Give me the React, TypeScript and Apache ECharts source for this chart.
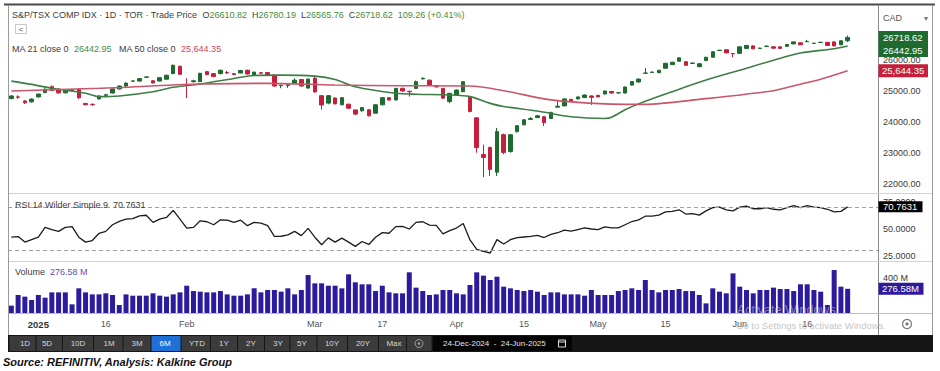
import React, { useEffect, useRef } from 'react';
import * as echarts from 'echarts';

// ---------------- DATA ----------------
const tradingDays: Record<string, number[]> = {
  '2024-12': [24, 27, 30, 31],
  '2025-01': [2, 3, 6, 7, 8, 9, 10, 13, 14, 15, 16, 17, 20, 21, 22, 23, 24, 27, 28, 29, 30, 31],
  '2025-02': [3, 4, 5, 6, 7, 10, 11, 12, 13, 14, 18, 19, 20, 21, 24, 25, 26, 27, 28],
  '2025-03': [3, 4, 5, 6, 7, 10, 11, 12, 13, 14, 17, 18, 19, 20, 21, 24, 25, 26, 27, 28, 31],
  '2025-04': [1, 2, 3, 4, 7, 8, 9, 10, 11, 14, 15, 16, 17, 21, 22, 23, 24, 25, 28, 29, 30],
  '2025-05': [1, 2, 5, 6, 7, 8, 9, 12, 13, 14, 15, 16, 20, 21, 22, 23, 26, 27, 28, 29, 30],
  '2025-06': [2, 3, 4, 5, 6, 9, 10, 11, 12, 13, 16, 17, 18, 19, 20, 23, 24],
};

// [open, close, low, high]
const candles: number[][] = [
  [24750, 24830, 24720, 24860], [24800, 24790, 24740, 24850], [24670, 24610, 24570, 24690], [24640, 24730, 24620, 24750],
  [24800, 24890, 24780, 24910], [24940, 25050, 24920, 25070], [25130, 25010, 24990, 25170], [25050, 24930, 24900, 25080],
  [24930, 25020, 24910, 25040], [25030, 25010, 24980, 25060], [25050, 24770, 24740, 25070], [24590, 24545, 24530, 24600],
  [24560, 24550, 24510, 24590], [24735, 24830, 24720, 24850], [24850, 24870, 24830, 24900], [24925, 25055, 24910, 25070],
  [25055, 25150, 25040, 25170], [25150, 25245, 25130, 25270], [25305, 25315, 25290, 25330], [25310, 25390, 25300, 25400],
  [25430, 25445, 25420, 25460], [25320, 25250, 25240, 25330], [25310, 25420, 25300, 25430], [25370, 25500, 25360, 25510],
  [25550, 25820, 25540, 25840], [25790, 25530, 25520, 25800], [25200, 25180, 24760, 25400], [25290, 25320, 25260, 25350],
  [25290, 25560, 25280, 25580], [25615, 25520, 25500, 25640], [25550, 25455, 25440, 25570], [25550, 25660, 25530, 25680],
  [25590, 25575, 25540, 25640], [25550, 25520, 25500, 25570], [25570, 25650, 25560, 25670], [25660, 25540, 25530, 25680],
  [25500, 25600, 25490, 25610], [25580, 25565, 25540, 25600], [25585, 25500, 25490, 25600], [25500, 25150, 25130, 25510],
  [25160, 25175, 25080, 25190], [25170, 25190, 25090, 25200], [25245, 25340, 25230, 25400], [25360, 25150, 25140, 25370],
  [25085, 25375, 25070, 25390], [25400, 24960, 24940, 25500], [24840, 24540, 24390, 24850], [24600, 24840, 24560, 24860],
  [24765, 24575, 24560, 24780], [24545, 24775, 24530, 24790], [24565, 24435, 24420, 24580], [24380, 24245, 24210, 24390],
  [24350, 24455, 24330, 24470], [24385, 24190, 24170, 24400], [24275, 24545, 24260, 24560], [24545, 24775, 24530, 24790],
  [24775, 24700, 24680, 24790], [24700, 25075, 24690, 25090], [25075, 24990, 24970, 25100], [24980, 24965, 24810, 25000],
  [25075, 25290, 25060, 25330], [25380, 25400, 25370, 25430], [25340, 25180, 25170, 25360], [25140, 25125, 25100, 25160],
  [25075, 24760, 24740, 25090], [24650, 24915, 24600, 24930], [24860, 25020, 24850, 25040], [24970, 25290, 24950, 25300],
  [24810, 24330, 24300, 24830], [24125, 23165, 23000, 24140], [22940, 22845, 22210, 23260], [23165, 22460, 22250, 23200],
  [22370, 23680, 22250, 23800], [23580, 23010, 22950, 23620], [23040, 23580, 23000, 23600], [23680, 23870, 23650, 23890],
  [23900, 24060, 23880, 24080], [24075, 24100, 24050, 24150], [24130, 24190, 24120, 24220], [24160, 23970, 23860, 24180],
  [24105, 24300, 24090, 24320], [24470, 24500, 24460, 24670], [24510, 24735, 24500, 24750], [24720, 24670, 24660, 24740],
  [24735, 24800, 24720, 24810], [24780, 24860, 24770, 24880], [24830, 24785, 24540, 24850], [24850, 24800, 24790, 24860],
  [24895, 24990, 24880, 25000], [24975, 24925, 24910, 24990], [24930, 24935, 24900, 24960], [24925, 25120, 24910, 25130],
  [25180, 25295, 25170, 25310], [25280, 25375, 25270, 25390], [25560, 25570, 25540, 25730], [25590, 25600, 25570, 25620],
  [25580, 25660, 25570, 25670], [25725, 25885, 25710, 25900], [25840, 25920, 25830, 25930], [25950, 26060, 25940, 26080],
  [25935, 25820, 25810, 25950], [25880, 25890, 25860, 25920], [25775, 25870, 25760, 25880], [25970, 26080, 25960, 26090],
  [26080, 26255, 26070, 26270], [26295, 26305, 26280, 26320], [26320, 26220, 26210, 26330], [26200, 26190, 26080, 26210],
  [26205, 26415, 26190, 26425], [26365, 26460, 26350, 26470], [26445, 26350, 26340, 26460], [26365, 26370, 26350, 26390],
  [26425, 26435, 26410, 26470], [26415, 26370, 26360, 26430], [26415, 26365, 26355, 26425], [26430, 26490, 26420, 26500],
  [26510, 26575, 26500, 26585], [26545, 26480, 26470, 26555], [26580, 26590, 26570, 26640], [26525, 26530, 26510, 26550],
  [26555, 26560, 26540, 26580], [26560, 26460, 26450, 26570], [26575, 26445, 26435, 26585], [26480, 26609, 26470, 26620],
  [26610.82, 26718.62, 26565.76, 26780.19],
];

// [day index, value]
const ma21Points: number[][] = [
  [0, 25310], [3, 25204], [6, 25077], [11, 24917], [13, 24808], [16, 24831], [21, 24968], [24, 25109],
  [28, 25214], [33, 25396], [36, 25492], [40, 25502], [45, 25470], [48, 25364], [51, 25128], [57, 24917],
  [60, 24885], [65, 24863], [68, 24808], [71, 24591], [73, 24489], [78, 24345], [83, 24160], [88, 24105],
  [89, 24144], [91, 24383], [93, 24575], [98, 24968], [103, 25342], [108, 25661], [113, 25981], [117, 26214],
  [122, 26355], [124, 26442.95],
];
const ma50Points: number[][] = [
  [0, 24990], [13, 25077], [28, 25214], [38, 25236], [48, 25182], [58, 25160], [68, 25150], [73, 25000],
  [80, 24703], [88, 24575], [94, 24560], [102, 24720], [113, 25000], [117, 25210], [120, 25370], [124, 25644.35],
];

const rsiValues: number[] = [
  42.3, 42.9, 37.7, 40, 42.3, 51.5, 49.4, 47.8, 51.5, 52.2,
  42.3, 37.7, 39.2, 46, 47.8, 54, 57.1, 59.2, 59.8, 62.3,
  62.9, 56.2, 59.2, 60.8, 67.5, 59.2, 50.9, 51.5, 57.7, 56.8,
  54, 58.6, 58.3, 56.2, 58.3, 53.1, 56.2, 55.5, 53.1, 43,
  43.2, 44.5, 47.8, 43.8, 50.6, 42.3, 35.2, 41.7, 37.7, 41.4,
  37.7, 33.7, 38.3, 35.5, 42.3, 46.6, 46, 52.2, 52.5, 50,
  56.2, 56.8, 53.7, 53.4, 45.4, 48.5, 50.9, 55.2, 39.8, 31,
  29, 27.5, 40, 36, 40, 42, 42.5, 43, 44, 42,
  45, 46.5, 49, 48, 49.5, 51, 50, 49.5, 52, 51,
  51, 54, 57, 58.5, 62, 62, 63, 66, 66.5, 68,
  64, 64.5, 63, 67, 70, 70.5, 68, 67, 70.5, 71.5,
  69, 69, 70, 68.5, 68, 70, 72, 70, 72, 70.5,
  70, 68.5, 66, 66.5, 70.7631,
];

// millions of shares
const volumeValues: number[] = [
  84, 206, 187, 149, 206, 175, 236, 236, 236, 99,
  282, 236, 213, 213, 225, 206, 91, 213, 198, 198,
  198, 225, 198, 187, 213, 236, 312, 251, 244, 236,
  236, 251, 213, 198, 198, 213, 282, 236, 263, 263,
  244, 282, 213, 263, 434, 339, 339, 312, 312, 282,
  442, 351, 328, 328, 251, 312, 236, 225, 225, 465,
  290, 251, 206, 213, 263, 263, 225, 213, 320, 465,
  427, 377, 415, 301, 282, 263, 251, 263, 244, 206,
  236, 236, 213, 213, 213, 198, 263, 206, 206, 206,
  251, 263, 282, 263, 377, 263, 236, 263, 263, 274,
  251, 251, 206, 110, 282, 244, 225, 453, 301, 263,
  225, 263, 263, 290, 274, 274, 251, 328, 328, 263,
  244, 91, 491, 301, 276.58,
];

const xTickLabels: [string, string][] = [
  ['2025-01-02', '2025'], ['2025-01-16', '16'], ['2025-02-03', 'Feb'], ['2025-03-03', 'Mar'],
  ['2025-03-17', '17'], ['2025-04-01', 'Apr'], ['2025-04-15', '15'], ['2025-05-01', 'May'],
  ['2025-05-15', '15'], ['2025-06-02', 'Jun'], ['2025-06-16', '16'],
];
const yearTicks = ['2025'];
const priceTicks = [22000, 23000, 24000, 25000, 26000];
const rsiTicks = [25, 50, 75];
const volumeTicks = [400];
const rsiBands = [70, 30];
const priceChange = 109.26;
const priceChangePct = 0.41;
const toolbarButtons = ['1D', '5D', '10D', '1M', '3M', '6M', 'YTD', '1Y', '2Y', '3Y', '5Y', '10Y', '20Y', 'Max'];
const activeRange = '6M';
const rangeFrom = '24-Dec-2024';
const rangeTo = '24-Jun-2025';

// ---------------- LAYOUT / STYLE ----------------
const FONT = '"Liberation Sans", Arial, Helvetica, sans-serif';
const W = 940;
const PLOT_L = 8;
const PLOT_R = 878;
const FRAME_R = 933;
const GREEN = '#1d6b2e';
const RED = '#c51f3b';
const VOL = '#2c1b9c';

const dates = Object.keys(tradingDays).flatMap((ym) =>
  tradingDays[ym].map((d) => `${ym}-${String(d).padStart(2, '0')}`)
);
const categories = [...dates, 'pad1', 'pad2', 'pad3', 'pad4'];
const tickMap = new Map(xTickLabels);
const last = candles[candles.length - 1];
const lastClose = last[1];
const lastMa21 = ma21Points[ma21Points.length - 1][1];
const lastMa50 = ma50Points[ma50Points.length - 1][1];
const lastRsi = rsiValues[rsiValues.length - 1];
const lastVol = volumeValues[volumeValues.length - 1];
const fmtComma = (v: number) =>
  v.toLocaleString('en-US', { minimumFractionDigits: 2, maximumFractionDigits: 2 });

function buildOption() {
  const grids = [
    { left: PLOT_L, right: W - PLOT_R, top: 7, height: 186 },
    { left: PLOT_L, right: W - PLOT_R, top: 197, height: 64 },
    { left: PLOT_L, right: W - PLOT_R, top: 262, height: 51 },
  ];
  const yLabel = { fontFamily: FONT, fontSize: 9, color: '#3a3a3a', margin: 5 };
  const hidden = { axisLine: { show: false }, axisTick: { show: false }, splitLine: { show: false } };
  return {
    animation: false,
    backgroundColor: '#ffffff',
    grid: grids,
    xAxis: grids.map((_, i) => ({
      type: 'category',
      gridIndex: i,
      data: categories,
      boundaryGap: true,
      ...hidden,
      axisLabel:
        i === 2
          ? {
              interval: (_idx: number, value: string) => tickMap.has(value),
              formatter: (value: string) => {
                const t = tickMap.get(value) || '';
                return yearTicks.includes(t) ? `{b|${t}}` : t;
              },
              fontFamily: FONT,
              fontSize: 9,
              color: '#555',
              margin: 6,
              rich: { b: { fontFamily: FONT, fontSize: 9.5, fontWeight: 'bold', color: '#333' } },
            }
          : { show: false },
    })),
    yAxis: [
      {
        type: 'value', gridIndex: 0, position: 'right', min: 21700, max: 27700, interval: 100, ...hidden,
        axisLabel: { ...yLabel, formatter: (v: number) => (priceTicks.includes(v) ? v.toFixed(2) : '') },
      },
      {
        type: 'value', gridIndex: 1, position: 'right', min: 20, max: 80, interval: 2.5, ...hidden,
        axisLabel: { ...yLabel, formatter: (v: number) => (rsiTicks.includes(v) ? v.toFixed(4) : '') },
      },
      {
        type: 'value', gridIndex: 2, position: 'right', min: 0, max: 583, interval: 100, ...hidden,
        axisLabel: { ...yLabel, formatter: (v: number) => (volumeTicks.includes(v) ? `${v} M` : '') },
      },
    ],
    series: [
      {
        type: 'candlestick',
        xAxisIndex: 0,
        yAxisIndex: 0,
        data: candles,
        barWidth: 4,
        itemStyle: { color: GREEN, color0: RED, borderColor: GREEN, borderColor0: RED, borderWidth: 1 },
      },
      {
        type: 'line', xAxisIndex: 0, yAxisIndex: 0, data: ma21Points, smooth: 0.3,
        symbol: 'none', showSymbol: false, z: 3, lineStyle: { color: '#3f7d46', width: 1.6 },
      },
      {
        type: 'line', xAxisIndex: 0, yAxisIndex: 0, data: ma50Points, smooth: 0.3,
        symbol: 'none', showSymbol: false, z: 3, lineStyle: { color: '#c9566a', width: 1.6 },
      },
      {
        type: 'line', xAxisIndex: 1, yAxisIndex: 1, data: rsiValues, symbol: 'none', showSymbol: false,
        lineStyle: { color: '#1c1c1c', width: 1.3 },
        markLine: {
          silent: true, symbol: 'none', label: { show: false },
          lineStyle: { type: [4, 3], color: '#a0a0a0', width: 1 },
          data: rsiBands.map((v) => ({ yAxis: v })),
        },
      },
      {
        type: 'bar', xAxisIndex: 2, yAxisIndex: 2, data: volumeValues, barWidth: 5,
        itemStyle: { color: VOL },
      },
    ],
  };
}

function buildGraphics(py: (axis: number, v: number) => number) {
  const g: any[] = [];
  const Z = 120;
  const text = (x: number, y: number, t: string, style: any = {}) => ({
    type: 'text', x, y, z: Z, silent: true,
    style: { text: t, fontFamily: FONT, fontSize: 9, fill: '#444', align: 'left', verticalAlign: 'middle', ...style },
  });
  const line = (x1: number, y1: number, x2: number, y2: number, stroke: string, lineWidth = 1, z = Z) => ({
    type: 'line', z, silent: true, shape: { x1, y1, x2, y2 }, style: { stroke, lineWidth },
  });
  const rect = (x: number, y: number, width: number, height: number, style: any, z = Z) => ({
    type: 'rect', z, silent: true, shape: { x, y, width, height }, style,
  });

  // frame & separators
  g.push(line(4, 4.5, 935, 4.5, '#4a4a4a', 2));
  g.push(line(8.5, 5, 8.5, 335, '#9a9a9a'));
  g.push(line(FRAME_R - 0.5, 5, FRAME_R - 0.5, 335, '#9a9a9a'));
  g.push(line(PLOT_R + 0.5, 5, PLOT_R + 0.5, 335, '#8a8a8a'));
  g.push(line(9, 193.5, FRAME_R - 1, 193.5, '#d2d2d2'));
  g.push(line(9, 261.5, FRAME_R - 1, 261.5, '#d2d2d2'));
  g.push(line(9, 313.5, FRAME_R - 1, 313.5, '#bdbdbd'));

  // header
  const rich = {
    d: { fontFamily: FONT, fontSize: 9, fill: '#3c3c3c' },
    g: { fontFamily: FONT, fontSize: 9, fill: '#3f8c45' },
    r: { fontFamily: FONT, fontSize: 9, fill: '#c8465c' },
    v: { fontFamily: FONT, fontSize: 9, fill: '#5b50b3' },
  };
  const [o, c, l, h] = last;
  g.push(text(12, 15,
    `{d|S&P/TSX COMP IDX · 1D · TOR · Trade Price}  {d|O}{g|${o.toFixed(2)}}  {d|H}{g|${h.toFixed(2)}}  {d|L}{g|${l.toFixed(2)}}  {d|C}{g|${c.toFixed(2)}}  {g|${priceChange.toFixed(2)} (+${priceChangePct.toFixed(2)}%)}`,
    { rich }));
  g.push(rect(15.5, 24.5, 11, 9, { fill: '#fff', stroke: '#c8c8c8', lineWidth: 1 }));
  g.push(text(21, 29, '<', { align: 'center', fontSize: 8, fill: '#555' }));
  g.push(text(12, 49,
    `{d|MA 21 close 0}  {g|${lastMa21.toFixed(2)}}   {d|MA 50 close 0}  {r|${fmtComma(lastMa50)}}`,
    { rich }));

  // currency selector
  g.push(text(883, 18, 'CAD', { fill: '#555' }));
  g.push(text(926, 18, '▾', { fill: '#777', align: 'center', fontSize: 8 }));

  // price last-value boxes
  const yC = py(0, lastClose);
  const yM21 = Math.max(py(0, lastMa21), yC + 13);
  const yM50 = py(0, lastMa50);
  g.push(rect(PLOT_R + 0.5, yC - 6.5, 49.5, 13, { fill: GREEN }));
  g.push(text(883, yC, lastClose.toFixed(2), { fill: '#fff', fontSize: 9.5 }));
  g.push(rect(PLOT_R + 0.5, yM21 - 6.5, 49.5, 13, { fill: GREEN }));
  g.push(text(883, yM21, lastMa21.toFixed(2), { fill: '#fff', fontSize: 9.5 }));
  g.push(rect(PLOT_R + 0.5, yM50 - 6.5, 49.5, 13, { fill: RED }));
  g.push(text(882, yM50, fmtComma(lastMa50), { fill: '#fff', fontSize: 9.5 }));

  // RSI
  g.push(text(15, 205, `{d|RSI 14 Wilder Simple 9}  {d|${lastRsi.toFixed(4)}}`, { rich }));
  const yR = py(1, lastRsi);
  g.push(rect(PLOT_R + 0.5, yR - 5.5, 44, 11, { fill: '#000' }));
  g.push(text(883, yR, lastRsi.toFixed(4), { fill: '#fff', fontSize: 9.5 }));

  // Volume
  g.push(text(15, 272, `{d|Volume}  {v|${lastVol.toFixed(2)} M}`, { rich }));
  const yV = py(2, lastVol);
  g.push(rect(PLOT_R + 0.5, yV - 6, 45, 12, { fill: VOL }));
  g.push(text(882, yV, `${lastVol.toFixed(2)}M`, { fill: '#fff', fontSize: 9.5 }));

  // watermark
  g.push(text(737, 310, 'Activate Windows', { fill: 'rgba(215,215,215,0.55)', fontSize: 12.5 }));
  g.push(text(736, 325, 'Go to Settings to activate Windows.', { fill: 'rgba(175,175,175,0.75)', fontSize: 9.5 }));

  // settings icon
  g.push({ type: 'circle', z: Z, silent: true, shape: { cx: 907, cy: 324, r: 4.5 }, style: { fill: 'none', stroke: '#777', lineWidth: 1.2 } });
  g.push({ type: 'circle', z: Z, silent: true, shape: { cx: 907, cy: 324, r: 1.6 }, style: { fill: '#777' } });

  // toolbar
  const tbY = 335;
  const tbH = 17;
  g.push(rect(8, tbY, FRAME_R - 8, tbH, { fill: '#161616' }));
  const centers = [25, 47, 78, 109, 137, 165, 197, 224, 251, 278, 302, 332, 363, 394, 419];
  const edges = [9];
  for (let k = 1; k < centers.length; k++) edges.push((centers[k - 1] + centers[k]) / 2);
  edges.push(432);
  toolbarButtons.forEach((b, k) => {
    const x0 = edges[k] + 0.5;
    const w = edges[k + 1] - edges[k] - 1;
    g.push(rect(x0, tbY + 1, w, tbH - 2, { fill: b === activeRange ? '#1f6fd8' : '#3b3b3b' }));
    g.push(text(centers[k], tbY + tbH / 2, b, { align: 'center', fontSize: 8, fill: b === activeRange ? '#fff' : '#d6d6d6' }));
  });
  const gk = centers.length - 1;
  g.push(rect(edges[gk] + 0.5, tbY + 1, edges[gk + 1] - edges[gk] - 1, tbH - 2, { fill: '#3b3b3b' }));
  g.push({ type: 'circle', z: Z + 1, silent: true, shape: { cx: centers[gk], cy: tbY + tbH / 2, r: 4 }, style: { fill: 'none', stroke: '#9a9a9a', lineWidth: 1 } });
  g.push({ type: 'circle', z: Z + 1, silent: true, shape: { cx: centers[gk], cy: tbY + tbH / 2, r: 1.3 }, style: { fill: '#9a9a9a' } });
  g.push(rect(433, tbY + 1, 139, tbH - 2, { fill: '#050505' }));
  g.push(text(443, tbY + tbH / 2, `${rangeFrom}  -  ${rangeTo}`, { fontSize: 8, fill: '#e2e2e2' }));
  g.push(rect(558.5, tbY + 5, 7, 7, { fill: 'none', stroke: '#dcdcdc', lineWidth: 1 }));
  g.push(line(558.5, tbY + 7, 565.5, tbY + 7, '#dcdcdc'));

  // source
  g.push(text(3, 362, 'Source: REFINITIV, Analysis: Kalkine Group', {
    fontSize: 11, fontWeight: 'bold', fontStyle: 'italic', fill: '#111',
  }));
  return g;
}

export default function App() {
  const ref = useRef<HTMLDivElement>(null);
  useEffect(() => {
    document.body.style.margin = '0';
    if (!ref.current) return;
    const chart = echarts.init(ref.current, null, { renderer: 'svg' });
    chart.setOption(buildOption() as any, true);
    const py = (axis: number, v: number) => chart.convertToPixel({ yAxisIndex: axis }, v) as number;
    chart.setOption({ graphic: buildGraphics(py) } as any);
    return () => chart.dispose();
  }, []);
  return (
    <div
      ref={ref}
      style={{ position: 'absolute', left: 0, top: 0, width: 940, height: 371, background: '#fff' }}
    />
  );
}
